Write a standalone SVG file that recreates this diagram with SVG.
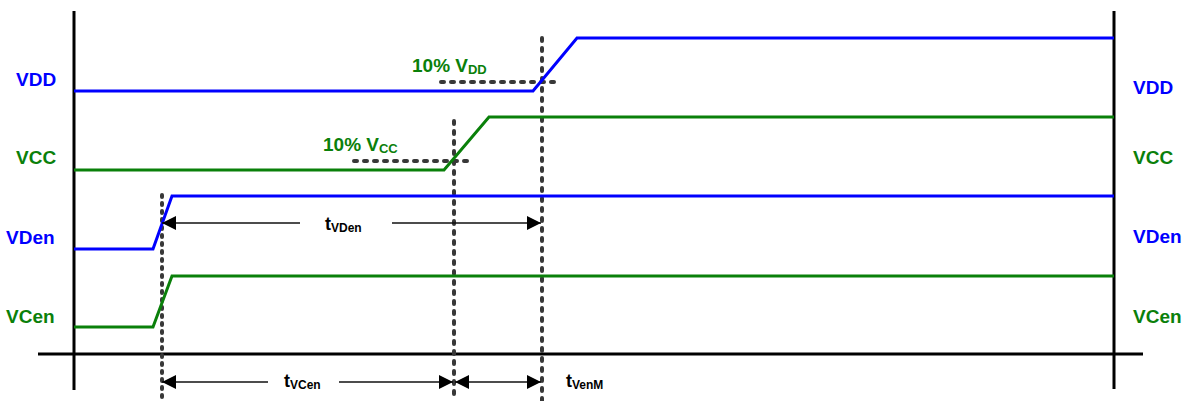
<svg xmlns="http://www.w3.org/2000/svg" width="1192" height="401" viewBox="0 0 1192 401">
<style>
.ax{stroke:#000;stroke-width:3;fill:none}
.sig{fill:none;stroke-width:3;stroke-linejoin:miter}
.b{stroke:#0000ff}
.g{stroke:#0a800a}
.gd{stroke:#383838;stroke-width:4;fill:none;stroke-linecap:round;stroke-dasharray:3 7}
.gd2{stroke:#383838;stroke-width:4;fill:none;stroke-linecap:round;stroke-dasharray:2 6}
.ar{stroke:#111;stroke-width:1.3;fill:none}
.lb{font-family:"Liberation Sans",Arial,sans-serif;font-weight:bold;font-size:19px}
.tb{fill:#0000ff}
.tg{fill:#0a800a}
.tk{font-family:"Liberation Sans",Arial,sans-serif;font-weight:bold;font-size:18px;fill:#000}
</style>
<defs>
<marker id="ah" markerUnits="userSpaceOnUse" markerWidth="16" markerHeight="16" viewBox="0 0 16 16" refX="15" refY="8" orient="auto">
<path d="M1,1 L15,8 L1,15 Z" fill="#000"/>
</marker>
</defs>
<g id="axes">
<line class="ax" x1="74" y1="11" x2="74" y2="390"/>
<line class="ax" x1="1114" y1="11" x2="1114" y2="389"/>
<line class="ax" x1="38" y1="354" x2="1143" y2="354"/>
</g>
<g id="guides">
<line class="gd2" x1="162" y1="195" x2="162" y2="401"/>
<line class="gd" x1="454" y1="121" x2="454" y2="401"/>
<line class="gd" x1="542" y1="38" x2="542" y2="401"/>
<line class="gd" x1="441" y1="82" x2="561" y2="82"/>
<line class="gd" x1="354" y1="161" x2="473" y2="161"/>
</g>
<g id="VDD">
<polyline class="sig b" points="74,91 533,91 577,38 1114,38"/>
<text class="lb tb" x="16" y="86">VDD</text>
<text class="lb tb" x="1133" y="94">VDD</text>
</g>
<g id="VCC">
<polyline class="sig g" points="74,170 444,170 489,117 1114,117"/>
<text class="lb tg" x="16" y="164">VCC</text>
<text class="lb tg" x="1133" y="164">VCC</text>
</g>
<g id="VDen">
<polyline class="sig b" points="74,249 153,249 172,196 1114,196"/>
<text class="lb tb" x="6" y="244">VDen</text>
<text class="lb tb" x="1133" y="243">VDen</text>
</g>
<g id="VCen">
<polyline class="sig g" points="74,327 153,327 172,276 1114,276"/>
<text class="lb tg" x="6" y="323">VCen</text>
<text class="lb tg" x="1133" y="323">VCen</text>
</g>
<g id="thresholds">
<text class="lb tg" x="412" y="72">10% V<tspan font-size="13" dy="1.5">DD</tspan></text>
<text class="lb tg" x="323" y="151">10% V<tspan font-size="13" dy="1.5">CC</tspan></text>
</g>
<g id="connectors">
<line class="ar" x1="300" y1="223" x2="162" y2="223" marker-end="url(#ah)"/>
<line class="ar" x1="392" y1="223" x2="541" y2="223" marker-end="url(#ah)"/>
<line class="ar" x1="268" y1="382" x2="162" y2="382" marker-end="url(#ah)"/>
<line class="ar" x1="339" y1="382" x2="453" y2="382" marker-end="url(#ah)"/>
<line class="ar" x1="500" y1="382" x2="455" y2="382" marker-end="url(#ah)"/>
<line class="ar" x1="500" y1="382" x2="541" y2="382" marker-end="url(#ah)"/>
</g>
<g id="timing-labels">
<text class="tk" x="325" y="230">t<tspan font-size="12" dy="2">VDen</tspan></text>
<text class="tk" x="284" y="387">t<tspan font-size="12" dy="2">VCen</tspan></text>
<text class="tk" x="566" y="387">t<tspan font-size="12" dy="2">VenM</tspan></text>
</g>
</svg>
